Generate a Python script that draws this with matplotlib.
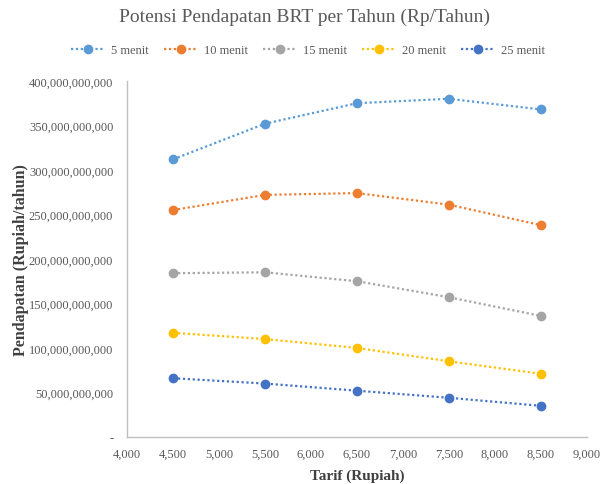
import matplotlib.pyplot as plt
from matplotlib.ticker import FuncFormatter

# data
tarif = [4500, 5500, 6500, 7500, 8500]
menit_5 = [312e9, 352e9, 375e9, 380e9, 368e9]
menit_10 = [255e9, 272e9, 274e9, 261e9, 238e9]
menit_15 = [184e9, 185e9, 175e9, 157e9, 136e9]
menit_20 = [117e9, 110e9, 100e9, 85e9, 71e9]
menit_25 = [66e9, 60e9, 52e9, 44e9, 35e9]
labels = ["5 menit", "10 menit", "15 menit", "20 menit", "25 menit"]
colors = ["#5B9BD5", "#ED7D31", "#A5A5A5", "#FFC000", "#4472C4"]

plt.rcParams['font.family'] = ['Liberation Serif', 'DejaVu Serif']

fig = plt.figure(figsize=(6, 4.85), dpi=100)
ax = fig.add_axes([0.212, 0.097, 0.766, 0.734])

for ys, lab, c in zip([menit_5, menit_10, menit_15, menit_20, menit_25], labels, colors):
    ax.plot(tarif, ys, linestyle=(0, (1, 1.2)), linewidth=1.6, color=c,
            marker='o', markersize=6, label=lab)

ax.set_xlim(4000, 9000)
ax.set_ylim(0, 400e9)
ax.set_xticks(range(4000, 9001, 500))
ax.set_yticks([i * 50e9 for i in range(9)])
ax.xaxis.set_major_formatter(FuncFormatter(lambda v, p: f"{int(v):,}"))
ax.yaxis.set_major_formatter(FuncFormatter(lambda v, p: "-" if v == 0 else f"{int(v):,}"))
ax.tick_params(length=0, labelsize=9, colors="#595959")
ax.tick_params(axis='y', pad=10)
ax.tick_params(axis='x', pad=8)

for s in ["top", "right"]:
    ax.spines[s].set_visible(False)
for s in ["left", "bottom"]:
    ax.spines[s].set_color("#BFBFBF")
    ax.spines[s].set_linewidth(1)

ax.set_xlabel("Tarif (Rupiah)", fontsize=11, fontweight='bold', color="#404040", labelpad=6)
ax.set_ylabel("Pendapatan (Rupiah/tahun)", fontsize=11.5, fontweight='bold', color="#404040", labelpad=0)

fig.text(0.508, 0.965, "Potensi Pendapatan BRT per Tahun (Rp/Tahun)", ha='center', va='center',
         fontsize=14, color="#595959")
fig.legend(loc='center', bbox_to_anchor=(0.513, 0.895), ncol=5, frameon=False,
           fontsize=9, labelcolor="#595959", handlelength=2.7, columnspacing=1.2, handletextpad=0.5)

fig.savefig("out.png", dpi=100)
